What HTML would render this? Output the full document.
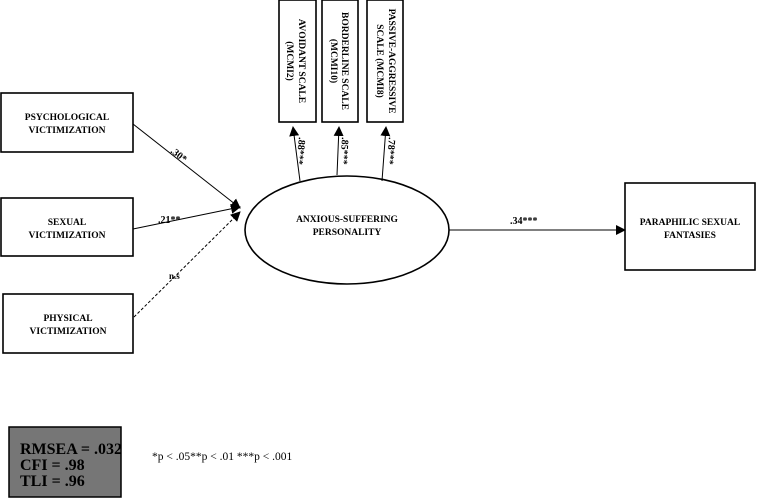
<!DOCTYPE html>
<html><head><meta charset="utf-8"><style>
html,body{margin:0;padding:0;background:#fff;}
svg{display:block;font-family:"Liberation Serif",serif;}
</style></head><body>
<svg width="757" height="498" viewBox="0 0 757 498" xmlns="http://www.w3.org/2000/svg">
<defs><marker id="a" markerWidth="10" markerHeight="10" refX="9" refY="5" orient="auto" markerUnits="userSpaceOnUse"><path d="M0,0 L10,5 L0,10z" fill="#000"/></marker></defs>
<g fill="none" stroke="#000" stroke-width="1.6">
<rect x="1" y="93" width="132" height="59"/>
<rect x="1" y="198" width="132" height="58"/>
<rect x="3" y="294" width="130" height="59"/>
<rect x="279" y="0" width="37" height="122"/>
<rect x="322" y="0" width="36" height="122"/>
<rect x="367" y="0" width="36" height="122"/>
<rect x="625" y="183" width="130" height="87"/>
<ellipse cx="347" cy="230" rx="102" ry="54"/>
</g>
<g stroke="#000" stroke-width="1">
<line x1="133" y1="124" x2="240" y2="208" marker-end="url(#a)"/>
<line x1="133" y1="229" x2="240" y2="207" marker-end="url(#a)"/>
<line x1="134" y1="317" x2="240" y2="212" stroke-dasharray="3,2" marker-end="url(#a)"/>
<line x1="300" y1="181" x2="293" y2="127" marker-end="url(#a)"/>
<line x1="337" y1="175" x2="339" y2="127" marker-end="url(#a)"/>
<line x1="382" y1="181" x2="386" y2="127" marker-end="url(#a)"/>
<line x1="449" y1="230" x2="625" y2="230" marker-end="url(#a)"/>
</g>
<g font-weight="bold" font-size="9.5" text-anchor="middle" fill="#000">
<text x="67" y="120">PSYCHOLOGICAL</text><text x="67" y="133">VICTIMIZATION</text>
<text x="67" y="225">SEXUAL</text><text x="67" y="238">VICTIMIZATION</text>
<text x="68" y="321">PHYSICAL</text><text x="68" y="334">VICTIMIZATION</text>
<text x="347" y="222">ANXIOUS-SUFFERING</text><text x="347" y="235">PERSONALITY</text>
<text x="690" y="225">PARAPHILIC SEXUAL</text><text x="690" y="238">FANTASIES</text>
<text transform="translate(299,61) rotate(90)">AVOIDANT SCALE</text>
<text transform="translate(287,61) rotate(90)">(MCMI2)</text>
<text transform="translate(342,61) rotate(90)">BORDERLINE SCALE</text>
<text transform="translate(331,61) rotate(90)">(MCMI10)</text>
<text transform="translate(389,61) rotate(90)">PASSIVE-AGGRESSIVE</text>
<text transform="translate(377,61) rotate(90)">SCALE (MCMI8)</text>
</g>
<g font-weight="bold" font-size="10" fill="#000">
<text transform="translate(170,152) rotate(38)">.30*</text>
<text x="158" y="223">.21**</text>
<text x="169" y="279" font-size="9">n.s</text>
<text x="510" y="224">.34***</text>
<text transform="translate(299,137) rotate(96)">.88***</text>
<text transform="translate(342,137) rotate(93)">.85***</text>
<text transform="translate(389,137) rotate(95)">.78***</text>
</g>
<rect x="9" y="427" width="112" height="70" fill="#767676" stroke="#000" stroke-width="1.5"/>
<g font-weight="bold" font-size="16" fill="#000">
<text x="20" y="454">RMSEA = .032</text>
<text x="20" y="470">CFI = .98</text>
<text x="20" y="486">TLI = .96</text>
</g>
<text x="152" y="460" font-size="11.5" fill="#000">*p &lt; .05**p &lt; .01 ***p &lt; .001</text>
</svg>
</body></html>
